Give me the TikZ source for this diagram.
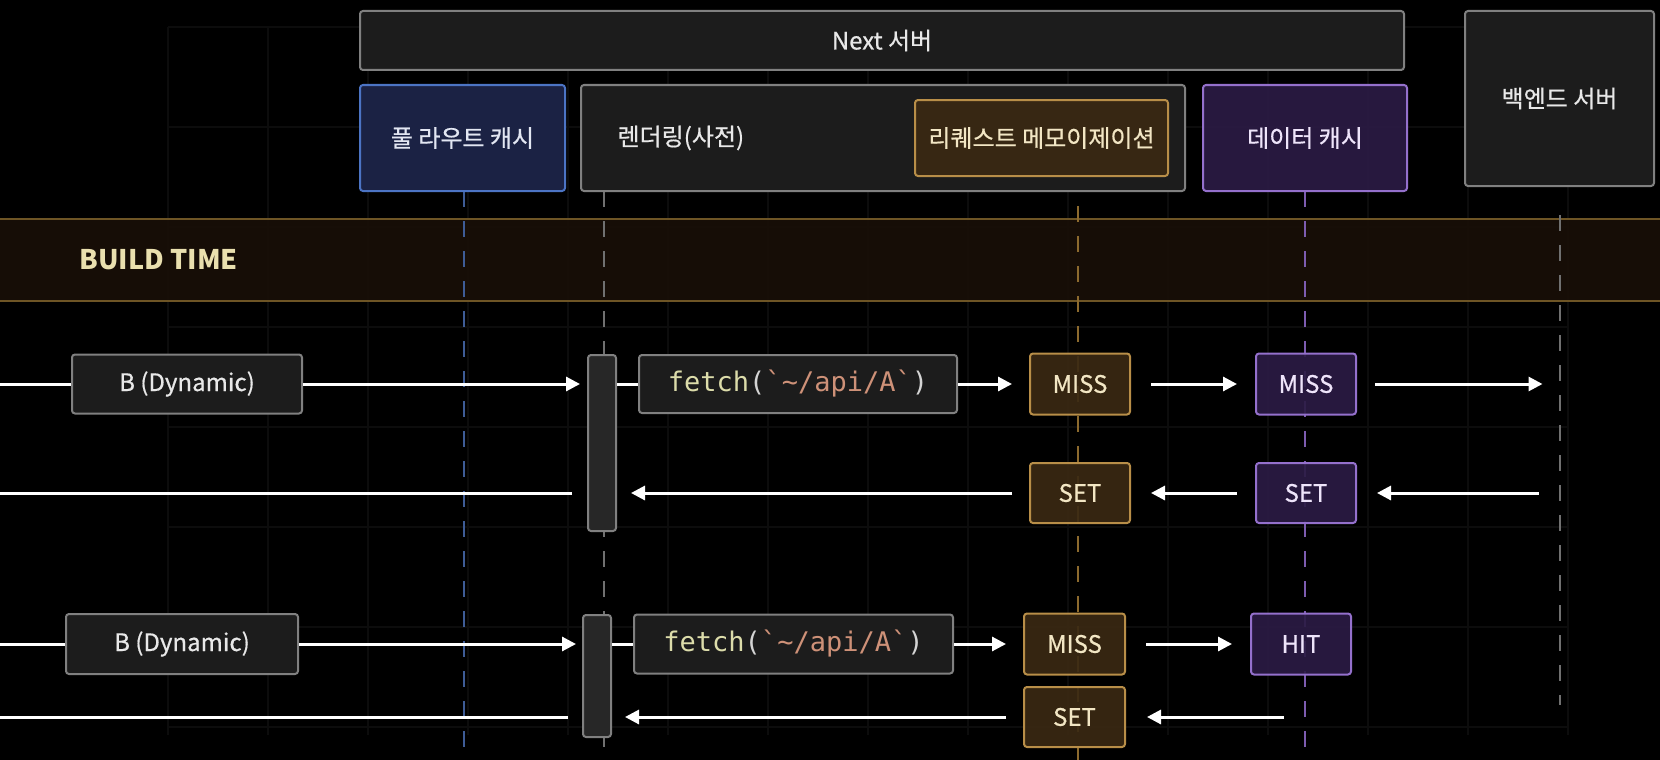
\documentclass[tikz,border=0pt]{standalone}
\usepackage{fontspec}
\setmainfont{Noto Sans CJK KR}[UprightFeatures={FakeBold=0.6}]
\setmonofont{DejaVu Sans Mono}
\usetikzlibrary{arrows.meta}
\definecolor{boxgray}{HTML}{1C1C1C}
\definecolor{edgegray}{HTML}{808080}
\definecolor{bluefill}{HTML}{1B2244}
\definecolor{blueedge}{HTML}{4C74C4}
\definecolor{goldfill}{HTML}{3A2913}
\definecolor{goldedge}{HTML}{B88E48}
\definecolor{purpfill}{HTML}{2B1B44}
\definecolor{purpedge}{HTML}{9470CC}
\definecolor{txtwhite}{HTML}{E8E8E8}
\definecolor{txtcream}{HTML}{F2E6C4}
\definecolor{txtlav}{HTML}{EEE4FA}
\definecolor{txtblue}{HTML}{E2E6F2}
\definecolor{bandfill}{HTML}{180F07}
\definecolor{bandedge}{HTML}{6E5525}
\definecolor{buildtxt}{HTML}{E9DFAE}
\definecolor{gridgray}{HTML}{0C0C0C}
\definecolor{lnblue}{HTML}{3E5C96}
\definecolor{lngray}{HTML}{707070}
\definecolor{lnorange}{HTML}{8C6A2E}
\definecolor{lnpurple}{HTML}{7D5CB0}
\definecolor{fnyellow}{HTML}{DCDCAA}
\definecolor{strsalmon}{HTML}{CE9178}
\definecolor{punc}{HTML}{D4D4D4}
\newcommand{\lifeline}[4]{ \draw[lifeln,draw=#4] ( #1 , #2 ) -- ( #1 , #3 );}
\newcommand{\fetchcall}{{\ttfamily\fontsize{27}{31}\selectfont\color{fnyellow}fetch\color{punc}(\color{strsalmon}`\textasciitilde/api/A`\color{punc})}}
\tikzset{
  box/.style={draw=edgegray, fill=boxgray, line width=2pt, rounded corners=3pt,
    inner sep=0pt, text=txtwhite, font=\fontsize{24}{28}\selectfont},
  routebox/.style={box, draw=blueedge, fill=bluefill, text=txtblue},
  goldbox/.style={box, draw=goldedge, fill=goldfill, fill opacity=0.92, text opacity=1, text=txtcream},
  purpbox/.style={box, draw=purpedge, fill=purpfill, fill opacity=0.92, text opacity=1, text=txtlav},
  actbar/.style={box, fill=boxgray!95!white, minimum width=28pt},
  lifeln/.style={line width=2pt, dash pattern=on 16pt off 14pt},
  gridln/.style={draw=gridgray, line width=1.5pt},
  flow/.style={draw=white, line width=3pt, -{Triangle[length=14pt,width=14pt]}},
  plain/.style={draw=white, line width=3pt}
}
\begin{document}
\begin{tikzpicture}[x=1pt,y=-1pt]
% canvas and faint grid
\fill[black] (0,0) rectangle (1660,760);
\useasboundingbox (0,0) rectangle (1660,760);
\foreach \gx in {168,268,...,1568} \draw[gridln] (\gx,27) -- (\gx,735);
\foreach \gy in {27,127,...,727} \draw[gridln] (168,\gy) -- (1568,\gy);
% build time band
\fill[bandfill, fill opacity=0.92] (0,219) rectangle (1660,301);
\draw[bandedge, line width=2pt] (0,219) -- (1660,219) (0,301) -- (1660,301);
\node[anchor=west, text=buildtxt, font=\fontsize{27}{31}\selectfont\bfseries] (build) at (76,260) {BUILD TIME};
% lifelines
\lifeline{464}{191}{760}{lnblue}
\lifeline{603.5}{191}{760}{lngray}
\lifeline{1078}{176}{760}{lnorange}
\lifeline{1305}{191}{760}{lnpurple}
\lifeline{1559.5}{215}{705}{lngray}
% header boxes
\node[box, minimum width=1044pt, minimum height=59pt] (next) at (882,40.5) {Next 서버};
\node[routebox, minimum width=205pt, minimum height=106pt] (fullroute) at (462.5,138) {풀 라우트 캐시};
\node[box, minimum width=604pt, minimum height=106pt] (render) at (883,138) {};
\node[anchor=west, text=txtwhite, font=\fontsize{24}{28}\selectfont] (rendertxt) at ([xshift=34pt]render.west) {렌더링(사전)};
\node[goldbox, minimum width=253pt, minimum height=76pt] (memo) at (1041.5,138) {리퀘스트 메모이제이션};
\node[purpbox, minimum width=204pt, minimum height=106pt] (datacache) at (1305,138) {데이터 캐시};
\node[box, minimum width=189pt, minimum height=175pt] (backend) at (1559.5,98.5) {백엔드 서버};
% first request
\node[box, minimum width=230pt, minimum height=59pt] (B1) at (187,384) {B (Dynamic)};
\node[actbar, minimum height=176pt] (bar1) at (602,443) {};
\node[box, minimum width=318pt, minimum height=58pt] (fetch1) at (798,384) {\fetchcall};
\node[goldbox, minimum width=100pt, minimum height=61pt] (miss1o) at (1080,384) {MISS};
\node[purpbox, minimum width=100pt, minimum height=61pt] (miss1p) at (1306,384) {MISS};
\node[goldbox, minimum width=100pt, minimum height=60pt] (set1o) at (1080,493) {SET};
\node[purpbox, minimum width=100pt, minimum height=60pt] (set1p) at (1306,493) {SET};
\coordinate (src1) at (0,384);
\coordinate (out1) at (0,493);
\coordinate (be1) at (1559.5,384);
\coordinate (be2) at (1559.5,493);
\draw[plain] (src1) -- (B1);
\draw[flow, shorten >=7pt] (B1) -- (B1 -| bar1.west);
\draw[plain] (bar1.east |- B1) -- (fetch1);
\draw[flow, shorten >=17pt] (fetch1) -- (miss1o);
\draw[flow, shorten <=20pt, shorten >=18pt] (miss1o) -- (miss1p);
\draw[flow, shorten <=18pt, shorten >=17pt] (miss1p) -- (be1);
\draw[flow, shorten <=21pt, shorten >=20pt] (be2) -- (set1p);
\draw[flow, shorten <=18pt, shorten >=20pt] (set1p) -- (set1o);
\draw[flow, shorten <=17pt, shorten >=14pt] (set1o) -- (set1o -| bar1.east);
\draw[plain, shorten <=15pt] (out1 -| bar1.west) -- (out1);
% second request
\node[box, minimum width=232pt, minimum height=60pt] (B2) at (182,644) {B (Dynamic)};
\node[actbar, minimum height=122pt] (bar2) at (597,676) {};
\node[box, minimum width=319pt, minimum height=59pt] (fetch2) at (793.5,644) {\fetchcall};
\node[goldbox, minimum width=101pt, minimum height=61pt] (miss2o) at (1074.5,644) {MISS};
\node[purpbox, minimum width=100pt, minimum height=61pt] (hit) at (1301,644) {HIT};
\node[goldbox, minimum width=101pt, minimum height=60pt] (set2o) at (1074.5,717) {SET};
\coordinate (src2) at (0,644);
\coordinate (out2) at (0,717);
\coordinate (ret2) at (1284,717);
\draw[plain] (src2) -- (B2);
\draw[flow, shorten >=6pt] (B2) -- (B2 -| bar2.west);
\draw[plain] (bar2.east |- B2) -- (fetch2);
\draw[flow, shorten >=17pt] (fetch2) -- (miss2o);
\draw[flow, shorten <=20pt, shorten >=18pt] (miss2o) -- (hit);
\draw[flow, shorten >=21pt] (ret2) -- (set2o);
\draw[flow, shorten <=17pt, shorten >=13pt] (set2o) -- (set2o -| bar2.east);
\draw[plain, shorten <=14pt] (out2 -| bar2.west) -- (out2);
\end{tikzpicture}
\end{document}
